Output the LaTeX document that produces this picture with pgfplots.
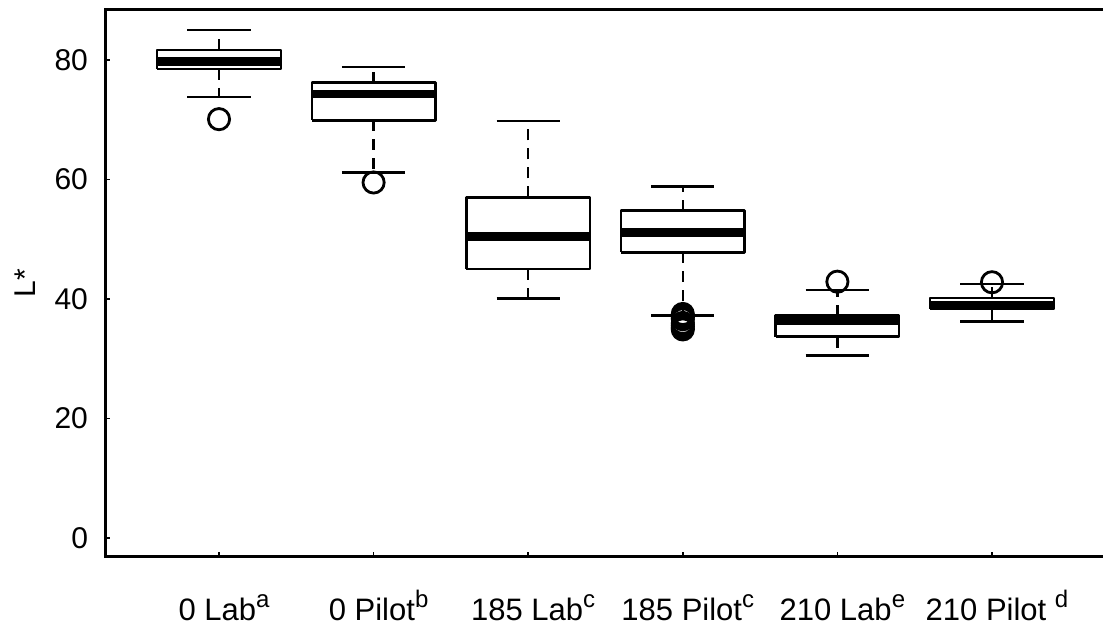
\documentclass[border=0pt]{standalone}
\usepackage{pgfplots}
\pgfplotsset{compat=1.18}
\usepackage{fontspec}
\setmainfont{Liberation Sans}
\newcommand{\supl}[1]{\raisebox{0.42em}{\fontsize{12}{14}\selectfont #1}}
% #1 position, #2 lower whisker, #3 lower quartile, #4 median, #5 upper quartile, #6 upper whisker
\newcommand{\bx}[6]{%
  \addplot[black, line width=1.25pt, dash pattern=on 5.5pt off 4pt, forget plot]
    table[row sep=\\, x expr=\thisrowno{0}+#1, y index=1] {0 #3\\ 0 #2\\};
  \addplot[black, line width=1.25pt, dash pattern=on 5.5pt off 4pt, forget plot]
    table[row sep=\\, x expr=\thisrowno{0}+#1, y index=1] {0 #5\\ 0 #6\\};
  \addplot[black, line width=1.25pt, forget plot]
    table[row sep=\\, x expr=\thisrowno{0}+#1, y index=1] {-0.205 #2\\ 0.205 #2\\};
  \addplot[black, line width=1.25pt, forget plot]
    table[row sep=\\, x expr=\thisrowno{0}+#1, y index=1] {-0.205 #6\\ 0.205 #6\\};
  \addplot[black, fill=white, line width=1.25pt, line join=round, forget plot]
    table[row sep=\\, x expr=\thisrowno{0}+#1, y index=1] {-0.4 #3\\ 0.4 #3\\ 0.4 #5\\ -0.4 #5\\ -0.4 #3\\};
  \addplot[black, line width=4.4pt, line cap=butt, forget plot]
    table[row sep=\\, x expr=\thisrowno{0}+#1, y index=1] {-0.397 #4\\ 0.397 #4\\};
}
\begin{document}
\begin{tikzpicture}
\begin{axis}[
  scale only axis,
  width=499pt, height=273.5pt,
  xmin=0.2626, xmax=6.718,
  ymin=-3.18, ymax=88.37,
  clip=false,
  axis line style={draw=none},
  xtick={1,2,3,4,5,6},
  xticklabels={{0 Lab\supl{a}},{0 Pilot\supl{b}},{185 Lab\supl{c}},{185 Pilot\supl{c}},{210 Lab\supl{e}},{210 Pilot \supl{d}}},
  ytick={0,20,40,60,80},
  xtick pos=left, ytick pos=left,
  tick align=inside,
  major tick length=2.5pt,
  tick style={black, line width=0.8pt},
  /pgf/number format/assume math mode=true,
  yticklabel style={font=\fontsize{15}{18}\selectfont, anchor=east, xshift=-5pt},
  xticklabel style={font=\fontsize{15.5}{18}\selectfont, anchor=base, yshift=-32pt, xshift=2.5pt},
  ylabel={L*},
  every axis y label/.style={at={(rel axis cs:0,0.5)}, xshift=-40pt, rotate=90, anchor=center, font=\fontsize{15}{18}\selectfont},
  mark size=5.3pt,
]
\bx{1}{73.8}{78.5}{79.8}{81.7}{85.0}
\bx{2}{61.2}{69.9}{74.3}{76.2}{78.8}
\bx{3}{40.1}{45.0}{50.4}{57.0}{69.8}
\bx{4}{37.2}{47.8}{51.1}{54.8}{58.8}
\bx{5}{30.5}{33.7}{36.4}{37.2}{41.5}
\bx{6}{36.2}{38.3}{39.0}{40.2}{42.5}
\addplot[black, only marks, mark=o, mark options={line width=1.4pt, solid}]
  coordinates {(1,70.1) (2,59.5) (4,37.5) (4,37.2) (4,36.9) (4,36.6) (4,36.0) (4,35.7) (4,35.4) (4,35.1) (4,34.9) (5,42.9) (6,42.8)};
\draw[line width=1.5pt] (rel axis cs:1,1) -- (rel axis cs:0,1) -- (rel axis cs:0,0) -- (rel axis cs:1,0);
\coordinate (bl) at (rel axis cs:0,0);
\coordinate (tr) at (rel axis cs:1,1);
\end{axis}
\pgfresetboundingbox
\useasboundingbox ([xshift=-52.5pt,yshift=-34.5pt]bl) rectangle ([yshift=5pt]tr);
\end{tikzpicture}
\end{document}
